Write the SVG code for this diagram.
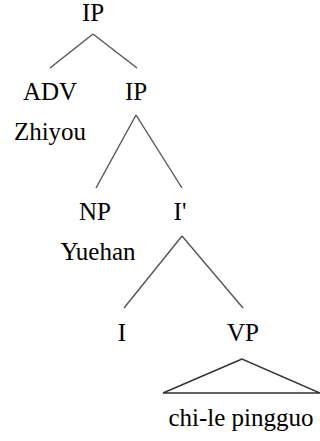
<svg xmlns="http://www.w3.org/2000/svg" width="320" height="441" viewBox="0 0 320 441">
<style>
text{font-family:"Liberation Serif","Times New Roman",serif;font-size:25px;fill:#000;text-anchor:middle}
.e{stroke:#555;stroke-width:1.4;fill:none}
.t{stroke:#333;stroke-width:1.4;fill:none}
</style>
<rect width="320" height="441" fill="#fff"/>
<g id="edges">
<path class="e" d="M93,34 L50,68 M93,34 L137,68"/>
<path class="e" d="M136,115 L96,188 M136,115 L182,188"/>
<path class="e" d="M182,236 L124,308 M182,236 L243,308"/>
<path class="t" d="M242,359 L163,393 L320,393 Z"/>
</g>
<g id="n-ip-root"><text x="93" y="21">IP</text></g>
<g id="n-adv"><text x="50" y="100">ADV</text></g>
<g id="n-zhiyou"><text x="50" y="140">Zhiyou</text></g>
<g id="n-ip2"><text x="136" y="100">IP</text></g>
<g id="n-np"><text x="95" y="220">NP</text></g>
<g id="n-yuehan"><text x="98" y="260">Yuehan</text></g>
<g id="n-ibar"><text x="180" y="220">I'</text></g>
<g id="n-i"><text x="122" y="341">I</text></g>
<g id="n-vp"><text x="243" y="341">VP</text></g>
<g id="n-chile"><text x="241" y="426">chi-le pingguo</text></g>
</svg>
